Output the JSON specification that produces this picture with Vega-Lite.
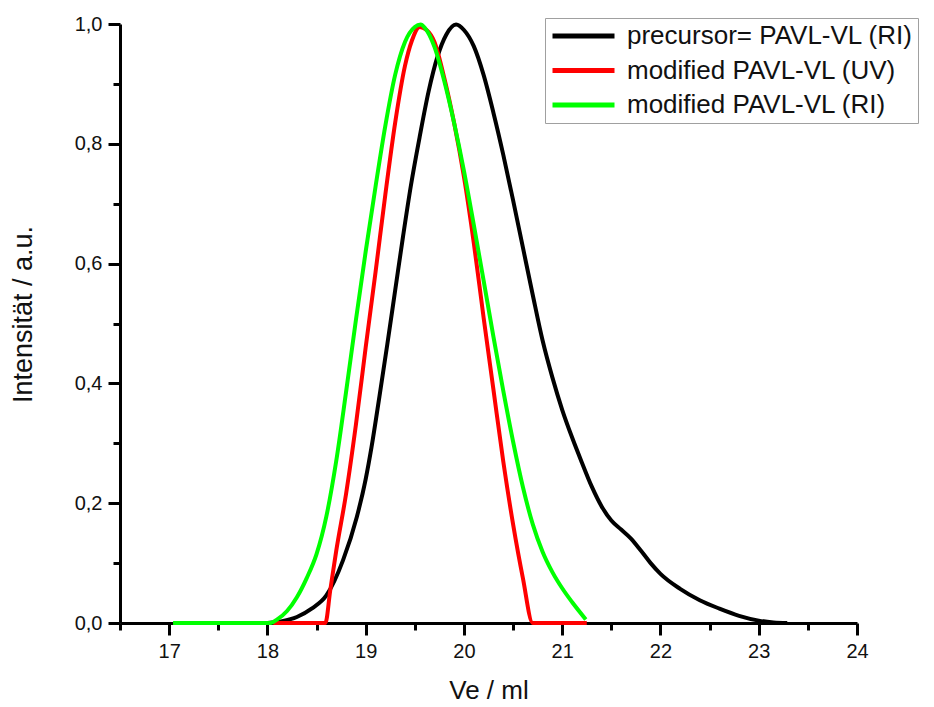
{
  "$schema": "https://vega.github.io/schema/vega-lite/v6.json",
  "width": 737,
  "height": 599,
  "autosize": {"type": "none"},
  "padding": {"left": 120, "top": 24, "right": 77, "bottom": 84},
  "background": "white",
  "config": {
    "view": {"stroke": null},
    "font": "Liberation Sans",
    "axis": {
      "grid": false,
      "domainColor": "#000000",
      "domainWidth": 3,
      "tickColor": "#000000",
      "tickWidth": 3,
      "labelFont": "Liberation Sans",
      "labelFontSize": 20,
      "labelColor": "#111111",
      "labelOverlap": false,
      "labelFlush": false,
      "titleFont": "Liberation Sans",
      "titleFontSize": 26,
      "titleFontWeight": "normal",
      "titleColor": "#111111"
    }
  },
  "data": {
    "values": [
      {"series": "precursor= PAVL-VL (RI)", "Ve": 18.0, "I": 0},
      {"series": "precursor= PAVL-VL (RI)", "Ve": 18.15, "I": 0.003},
      {"series": "precursor= PAVL-VL (RI)", "Ve": 18.3, "I": 0.01},
      {"series": "precursor= PAVL-VL (RI)", "Ve": 18.45, "I": 0.024},
      {"series": "precursor= PAVL-VL (RI)", "Ve": 18.6, "I": 0.046},
      {"series": "precursor= PAVL-VL (RI)", "Ve": 18.77, "I": 0.105},
      {"series": "precursor= PAVL-VL (RI)", "Ve": 18.91, "I": 0.177},
      {"series": "precursor= PAVL-VL (RI)", "Ve": 19.0, "I": 0.24},
      {"series": "precursor= PAVL-VL (RI)", "Ve": 19.06, "I": 0.294},
      {"series": "precursor= PAVL-VL (RI)", "Ve": 19.14, "I": 0.378},
      {"series": "precursor= PAVL-VL (RI)", "Ve": 19.22, "I": 0.465},
      {"series": "precursor= PAVL-VL (RI)", "Ve": 19.3, "I": 0.555},
      {"series": "precursor= PAVL-VL (RI)", "Ve": 19.38, "I": 0.645},
      {"series": "precursor= PAVL-VL (RI)", "Ve": 19.46, "I": 0.73},
      {"series": "precursor= PAVL-VL (RI)", "Ve": 19.55, "I": 0.812},
      {"series": "precursor= PAVL-VL (RI)", "Ve": 19.64, "I": 0.887},
      {"series": "precursor= PAVL-VL (RI)", "Ve": 19.73, "I": 0.945},
      {"series": "precursor= PAVL-VL (RI)", "Ve": 19.82, "I": 0.982},
      {"series": "precursor= PAVL-VL (RI)", "Ve": 19.92, "I": 0.999},
      {"series": "precursor= PAVL-VL (RI)", "Ve": 20.0, "I": 0.99},
      {"series": "precursor= PAVL-VL (RI)", "Ve": 20.1, "I": 0.963},
      {"series": "precursor= PAVL-VL (RI)", "Ve": 20.2, "I": 0.915},
      {"series": "precursor= PAVL-VL (RI)", "Ve": 20.3, "I": 0.852},
      {"series": "precursor= PAVL-VL (RI)", "Ve": 20.4, "I": 0.782},
      {"series": "precursor= PAVL-VL (RI)", "Ve": 20.5, "I": 0.706},
      {"series": "precursor= PAVL-VL (RI)", "Ve": 20.6, "I": 0.627},
      {"series": "precursor= PAVL-VL (RI)", "Ve": 20.7, "I": 0.548},
      {"series": "precursor= PAVL-VL (RI)", "Ve": 20.8, "I": 0.472},
      {"series": "precursor= PAVL-VL (RI)", "Ve": 20.9, "I": 0.41},
      {"series": "precursor= PAVL-VL (RI)", "Ve": 21.0, "I": 0.356},
      {"series": "precursor= PAVL-VL (RI)", "Ve": 21.1, "I": 0.31},
      {"series": "precursor= PAVL-VL (RI)", "Ve": 21.2, "I": 0.268},
      {"series": "precursor= PAVL-VL (RI)", "Ve": 21.3, "I": 0.228},
      {"series": "precursor= PAVL-VL (RI)", "Ve": 21.4, "I": 0.195},
      {"series": "precursor= PAVL-VL (RI)", "Ve": 21.5, "I": 0.171},
      {"series": "precursor= PAVL-VL (RI)", "Ve": 21.6, "I": 0.156},
      {"series": "precursor= PAVL-VL (RI)", "Ve": 21.7, "I": 0.141},
      {"series": "precursor= PAVL-VL (RI)", "Ve": 21.8, "I": 0.121},
      {"series": "precursor= PAVL-VL (RI)", "Ve": 21.9, "I": 0.1},
      {"series": "precursor= PAVL-VL (RI)", "Ve": 22.0, "I": 0.082},
      {"series": "precursor= PAVL-VL (RI)", "Ve": 22.2, "I": 0.057},
      {"series": "precursor= PAVL-VL (RI)", "Ve": 22.4, "I": 0.038},
      {"series": "precursor= PAVL-VL (RI)", "Ve": 22.6, "I": 0.024},
      {"series": "precursor= PAVL-VL (RI)", "Ve": 22.8, "I": 0.012},
      {"series": "precursor= PAVL-VL (RI)", "Ve": 23.0, "I": 0.004},
      {"series": "precursor= PAVL-VL (RI)", "Ve": 23.15, "I": 0.001},
      {"series": "precursor= PAVL-VL (RI)", "Ve": 23.29, "I": 0},

      {"series": "modified PAVL-VL (UV)", "Ve": 18.06, "I": 0},
      {"series": "modified PAVL-VL (UV)", "Ve": 18.59, "I": 0},
      {"series": "modified PAVL-VL (UV)", "Ve": 18.64, "I": 0.055},
      {"series": "modified PAVL-VL (UV)", "Ve": 18.7, "I": 0.12},
      {"series": "modified PAVL-VL (UV)", "Ve": 18.8, "I": 0.215},
      {"series": "modified PAVL-VL (UV)", "Ve": 18.9, "I": 0.33},
      {"series": "modified PAVL-VL (UV)", "Ve": 19.0, "I": 0.46},
      {"series": "modified PAVL-VL (UV)", "Ve": 19.1, "I": 0.585},
      {"series": "modified PAVL-VL (UV)", "Ve": 19.2, "I": 0.715},
      {"series": "modified PAVL-VL (UV)", "Ve": 19.3, "I": 0.835},
      {"series": "modified PAVL-VL (UV)", "Ve": 19.4, "I": 0.93},
      {"series": "modified PAVL-VL (UV)", "Ve": 19.47, "I": 0.972},
      {"series": "modified PAVL-VL (UV)", "Ve": 19.55, "I": 0.995},
      {"series": "modified PAVL-VL (UV)", "Ve": 19.62, "I": 0.99},
      {"series": "modified PAVL-VL (UV)", "Ve": 19.7, "I": 0.97},
      {"series": "modified PAVL-VL (UV)", "Ve": 19.8, "I": 0.91},
      {"series": "modified PAVL-VL (UV)", "Ve": 19.9, "I": 0.835},
      {"series": "modified PAVL-VL (UV)", "Ve": 20.0, "I": 0.745},
      {"series": "modified PAVL-VL (UV)", "Ve": 20.1, "I": 0.635},
      {"series": "modified PAVL-VL (UV)", "Ve": 20.2, "I": 0.51},
      {"series": "modified PAVL-VL (UV)", "Ve": 20.3, "I": 0.39},
      {"series": "modified PAVL-VL (UV)", "Ve": 20.4, "I": 0.27},
      {"series": "modified PAVL-VL (UV)", "Ve": 20.5, "I": 0.165},
      {"series": "modified PAVL-VL (UV)", "Ve": 20.6, "I": 0.075},
      {"series": "modified PAVL-VL (UV)", "Ve": 20.7, "I": 0},
      {"series": "modified PAVL-VL (UV)", "Ve": 21.25, "I": 0},

      {"series": "modified PAVL-VL (RI)", "Ve": 17.04, "I": 0},
      {"series": "modified PAVL-VL (RI)", "Ve": 18.03, "I": 0},
      {"series": "modified PAVL-VL (RI)", "Ve": 18.1, "I": 0.006},
      {"series": "modified PAVL-VL (RI)", "Ve": 18.2, "I": 0.02},
      {"series": "modified PAVL-VL (RI)", "Ve": 18.3, "I": 0.043},
      {"series": "modified PAVL-VL (RI)", "Ve": 18.4, "I": 0.075},
      {"series": "modified PAVL-VL (RI)", "Ve": 18.5, "I": 0.115},
      {"series": "modified PAVL-VL (RI)", "Ve": 18.6, "I": 0.178},
      {"series": "modified PAVL-VL (RI)", "Ve": 18.7, "I": 0.27},
      {"series": "modified PAVL-VL (RI)", "Ve": 18.8, "I": 0.385},
      {"series": "modified PAVL-VL (RI)", "Ve": 18.9, "I": 0.505},
      {"series": "modified PAVL-VL (RI)", "Ve": 19.0, "I": 0.62},
      {"series": "modified PAVL-VL (RI)", "Ve": 19.1, "I": 0.728},
      {"series": "modified PAVL-VL (RI)", "Ve": 19.2, "I": 0.83},
      {"series": "modified PAVL-VL (RI)", "Ve": 19.3, "I": 0.915},
      {"series": "modified PAVL-VL (RI)", "Ve": 19.4, "I": 0.97},
      {"series": "modified PAVL-VL (RI)", "Ve": 19.5, "I": 0.995},
      {"series": "modified PAVL-VL (RI)", "Ve": 19.56, "I": 0.999},
      {"series": "modified PAVL-VL (RI)", "Ve": 19.6, "I": 0.994},
      {"series": "modified PAVL-VL (RI)", "Ve": 19.7, "I": 0.962},
      {"series": "modified PAVL-VL (RI)", "Ve": 19.8, "I": 0.905},
      {"series": "modified PAVL-VL (RI)", "Ve": 19.9, "I": 0.835},
      {"series": "modified PAVL-VL (RI)", "Ve": 20.0, "I": 0.755},
      {"series": "modified PAVL-VL (RI)", "Ve": 20.1, "I": 0.665},
      {"series": "modified PAVL-VL (RI)", "Ve": 20.2, "I": 0.572},
      {"series": "modified PAVL-VL (RI)", "Ve": 20.3, "I": 0.478},
      {"series": "modified PAVL-VL (RI)", "Ve": 20.4, "I": 0.388},
      {"series": "modified PAVL-VL (RI)", "Ve": 20.5, "I": 0.303},
      {"series": "modified PAVL-VL (RI)", "Ve": 20.6, "I": 0.227},
      {"series": "modified PAVL-VL (RI)", "Ve": 20.7, "I": 0.165},
      {"series": "modified PAVL-VL (RI)", "Ve": 20.8, "I": 0.119},
      {"series": "modified PAVL-VL (RI)", "Ve": 20.9, "I": 0.085},
      {"series": "modified PAVL-VL (RI)", "Ve": 21.0, "I": 0.058},
      {"series": "modified PAVL-VL (RI)", "Ve": 21.1, "I": 0.035},
      {"series": "modified PAVL-VL (RI)", "Ve": 21.24, "I": 0.006}
    ]
  },
  "mark": {"type": "line", "strokeWidth": 4, "interpolate": "monotone"},
  "encoding": {
    "x": {
      "field": "Ve",
      "type": "quantitative",
      "scale": {"domain": [16.5, 24], "nice": false, "zero": false},
      "axis": {
        "title": "Ve / ml",
        "titlePadding": 16,
        "values": [16.5, 17, 17.5, 18, 18.5, 19, 19.5, 20, 20.5, 21, 21.5, 22, 22.5, 23, 23.5, 24],
        "labelExpr": "datum.value % 1 == 0 ? format(datum.value, 'd') : ''",
        "tickSize": {"condition": {"test": "datum.value % 1 == 0", "value": 12}, "value": 7},
        "labelPadding": 6
      }
    },
    "y": {
      "field": "I",
      "type": "quantitative",
      "scale": {"domain": [0, 1], "nice": false},
      "axis": {
        "title": "Intensität / a.u.",
        "titleFontSize": 27,
        "titlePadding": 37,
        "titleY": 290,
        "values": [0, 0.1, 0.2, 0.3, 0.4, 0.5, 0.6, 0.7, 0.8, 0.9, 1.0],
        "labelExpr": "round(datum.value*10) % 2 == 0 ? replace(format(datum.value, '.1f'), '.', ',') : ''",
        "tickSize": {"condition": {"test": "round(datum.value*10) % 2 == 0", "value": 12}, "value": 7},
        "labelPadding": 6
      }
    },
    "color": {
      "field": "series",
      "type": "nominal",
      "scale": {
        "domain": ["precursor= PAVL-VL (RI)", "modified PAVL-VL (UV)", "modified PAVL-VL (RI)"],
        "range": ["#000000", "#ff0000", "#00ff00"]
      },
      "legend": {
        "title": null,
        "orient": "none",
        "legendX": 425,
        "legendY": -6,
        "padding": 5,
        "strokeColor": "#a0a0a0",
        "fillColor": "white",
        "symbolType": "stroke",
        "symbolSize": 3844,
        "symbolStrokeWidth": 5,
        "clipHeight": 26,
        "rowPadding": 8.5,
        "labelOffset": 10,
        "labelFont": "Liberation Sans",
        "labelFontSize": 26,
        "labelColor": "#111111",
        "labelLimit": 400
      }
    }
  }
}
